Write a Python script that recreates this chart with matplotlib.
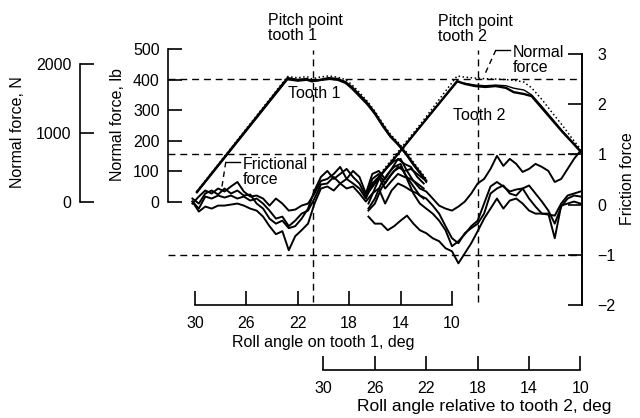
import matplotlib.pyplot as plt

plt.rcParams['font.family'] = ['Liberation Sans', 'DejaVu Sans']
plt.rcParams['font.size'] = 11.5

# roll angle on tooth 1 (deg) at which the tooth 1 friction traces were read
t1_roll = [30.2, 29.7, 29.2, 28.7, 28.2, 27.7, 27.2, 26.7, 26.2, 25.7, 25.2, 24.7,
           24.2, 23.7, 23.2, 22.7, 22.2, 21.7, 21.2, 20.7, 20.2, 19.7, 19.2, 18.7,
           18.2, 17.7, 17.2, 16.7, 16.2, 15.7, 15.2, 14.7, 14.2, 13.7, 13.2, 12.7, 12.2]
fric_t1_a = [0.02, 0.16, 0.28, 0.22, 0.32, 0.26, 0.36, 0.45, 0.26, 0.16, 0.18, 0.12,
             -0.02, 0.12, 0.02, -0.12, -0.10, -0.02, 0.02, 0.22, 0.47, 0.51, 0.61, 0.75,
             0.51, 0.67, 0.55, 0.22, 0.61, 0.67, 0.51, 0.71, 0.91, 0.81, 0.75, 0.55, 0.42]
fric_t1_b = [0.06, -0.08, 0.16, 0.12, 0.18, 0.14, 0.18, 0.12, 0.16, 0.08, 0.12, 0.02,
             -0.12, -0.28, -0.24, -0.43, -0.32, -0.18, -0.12, 0.12, 0.40, 0.42, 0.55, 0.42,
             0.51, 0.42, 0.32, 0.12, 0.42, 0.55, 0.32, 0.47, 0.61, 0.55, 0.51, 0.42, 0.32]
fric_t1_c = [0.06, -0.14, -0.04, -0.08, -0.02, -0.02, 0.00, 0.02, -0.02, -0.08, -0.12, -0.24,
             -0.43, -0.59, -0.53, -0.91, -0.63, -0.51, -0.38, 0.02, 0.32, 0.36, 0.28, 0.42,
             0.32, 0.36, 0.22, 0.06, 0.22, 0.32, 0.02, 0.28, 0.42, 0.36, 0.28, 0.22, 0.12]
fric_t1_d = [0.12, 0.02, 0.22, 0.28, 0.20, 0.32, 0.22, 0.28, 0.18, 0.20, 0.02, -0.08,
             -0.28, -0.38, -0.32, -0.47, -0.43, -0.28, -0.08, 0.28, 0.55, 0.67, 0.51, 0.61,
             0.71, 0.55, 0.42, 0.16, 0.51, 0.61, 0.42, 0.61, 0.75, 0.67, 0.71, 0.61, 0.51]

# tooth 2 friction traces, same roll-angle scale (tooth 1)
t2_roll = [16.5, 16.0, 15.5, 15.0, 14.5, 14.0, 13.5, 13.0, 12.5, 12.0, 11.5, 11.0,
           10.5, 10.0, 9.5, 9.0, 8.5, 8.0, 7.5, 7.0, 6.5, 6.0, 5.5, 5.0, 4.5, 4.0,
           3.5, 3.0, 2.5, 2.0, 1.5, 1.0, 0.5, 0.0]
fric_t2_a = [0.02, 0.32, 0.61, 0.75, 0.87, 0.91, 0.67, 0.47, 0.32, 0.26, 0.12, -0.02,
             -0.08, -0.12, -0.04, 0.06, 0.22, 0.42, 0.51, 0.71, 0.97, 0.77, 0.91, 0.81,
             0.65, 0.71, 0.81, 0.75, 0.67, 0.45, 0.51, 0.71, 0.91, 1.07]
fric_t2_b = [-0.08, 0.12, 0.42, 0.61, 0.75, 0.81, 0.51, 0.22, 0.02, -0.08, -0.18, -0.32,
             -0.51, -0.83, -0.73, -0.59, -0.43, -0.32, 0.02, 0.36, 0.45, 0.36, 0.26, 0.30,
             0.32, 0.12, -0.04, -0.18, -0.18, -0.67, -0.02, 0.02, 0.06, 0.02]
fric_t2_c = [-0.24, -0.38, -0.38, -0.51, -0.43, -0.32, -0.22, -0.38, -0.51, -0.57, -0.67, -0.73,
             -0.87, -0.93, -1.17, -0.97, -0.77, -0.53, -0.28, -0.08, 0.12, -0.08, 0.08, 0.12,
             0.02, -0.12, -0.18, -0.18, -0.20, -0.22, 0.02, 0.18, 0.22, 0.26]
fric_t2_d = [-0.12, 0.02, 0.32, 0.51, 0.67, 0.75, 0.55, 0.36, 0.18, 0.12, -0.02, -0.18,
             -0.43, -0.67, -0.77, -0.57, -0.47, -0.38, -0.18, 0.22, 0.32, 0.38, 0.22, 0.18,
             0.32, 0.38, 0.22, 0.06, -0.12, -0.38, -0.04, 0.12, 0.18, 0.16]

# normal force, lb
n1_roll = [29.85, 22.8, 22.0, 21.3, 20.9, 20.3, 19.6, 18.9, 18.3, 17.8, 17.2, 16.6,
           16.0, 15.4, 14.8, 14.2, 13.6, 13.0, 12.4, 12.0]
n1_run1 = [33, 405, 399, 402, 395, 399, 405, 402, 392, 376, 350, 324, 291, 252, 216, 190, 160, 124, 92, 69]
n1_run2 = [30, 400, 395, 398, 393, 397, 401, 398, 388, 370, 344, 318, 286, 247, 212, 186, 156, 120, 88, 64]
n1_dots = [35, 410, 406, 410, 402, 408, 412, 408, 400, 384, 358, 330, 297, 258, 222, 195, 166, 130, 98, 75]

n2_roll = [16.5, 15.4, 12.5, 9.6, 9.0, 8.2, 7.4, 6.6, 5.8, 5.2, 4.4, 3.8, 3.0, 2.2, 1.4, 0.6, -0.05]
n2_run1 = [33, 95, 245, 395, 386, 379, 376, 379, 373, 359, 353, 346, 307, 268, 229, 193, 163]
n2_run2 = [33, 95, 245, 392, 388, 382, 380, 382, 380, 372, 366, 350, 312, 272, 232, 196, 165]
n2_dots = [40, 102, 252, 412, 408, 405, 403, 402, 400, 398, 392, 373, 335, 292, 250, 205, 170]

pitch_roll = [20.85, 8.0]
guide_fric = [2.5, 1, -1]
roll_ticks = [30, 26, 22, 18, 14, 10]

W, H = 640, 418
XLIM = (32.1, -0.12)
LAB = 11.5


def fpos(x, y):
    return x / W, 1 - y / H


fig = plt.figure(figsize=(W / 100, H / 100), dpi=100)
ax = fig.add_axes([168 / W, 1 - 305 / H, (582 - 168) / W, (305 - 48.4) / H])
ax.patch.set_visible(False)

# normal force in lb, left scale
axn = ax.twinx()
# same force in newtons, further out
axN = ax.twinx()

# friction traces
for f in (fric_t1_a, fric_t1_b, fric_t1_c, fric_t1_d):
    ax.plot(t1_roll, f, color='black', lw=1.4)
for f in (fric_t2_a, fric_t2_b, fric_t2_c, fric_t2_d):
    ax.plot(t2_roll, f, color='black', lw=1.4)

dash = (0, (5, 3.5))
for g in guide_fric:
    ax.axhline(g, color='black', lw=1.0, ls=dash)
ax.vlines(pitch_roll, -1.95, 3.07, color='black', lw=1.0, linestyles=[dash])

ax.set_xlim(*XLIM)
ax.set_ylim(-2, 3.11)
for s in ('top', 'left'):
    ax.spines[s].set_visible(False)
ax.spines['right'].set_visible(True)
ax.spines['right'].set_bounds(-2, 3)
ax.spines['right'].set_linewidth(1.4)
ax.spines['bottom'].set_bounds(30, 10)
ax.spines['bottom'].set_linewidth(1.2)
ax.yaxis.tick_right()
ax.set_yticks([-2, -1, 0, 1, 2, 3])
ax.tick_params(axis='y', direction='in', length=10, width=1.2, pad=11)
ax.set_xticks(roll_ticks)
ax.tick_params(axis='x', direction='in', length=10, width=1.2, pad=8)

# tooth 2 roll-angle scale (offset by 10 deg)
ax2 = fig.add_axes([168 / W, 1 - 370 / H, (582 - 168) / W, 0.0001])
ax2.patch.set_visible(False)
ax2.set_xlim(XLIM[0] + 10, XLIM[1] + 10)
for s in ('top', 'left', 'right'):
    ax2.spines[s].set_visible(False)
ax2.spines['bottom'].set_bounds(30, 10)
ax2.spines['bottom'].set_linewidth(1.2)
ax2.set_yticks([])
ax2.set_xticks(roll_ticks)
ax2.tick_params(axis='x', direction='in', length=10, width=1.2, pad=8)

axn.plot(n1_roll, n1_run1, color='black', lw=1.7)
axn.plot(n1_roll, n1_run2, color='black', lw=1.0)
axn.plot(n1_roll, n1_dots, color='black', lw=1.1, ls=':')
axn.plot(n2_roll, n2_run1, color='black', lw=1.7)
axn.plot(n2_roll, n2_run2, color='black', lw=1.0)
axn.plot(n2_roll, n2_dots, color='black', lw=1.1, ls=':')
axn.set_ylim(-336.6, 502)
for s in ('top', 'right', 'bottom'):
    axn.spines[s].set_visible(False)
axn.spines['left'].set_visible(True)
axn.spines['left'].set_bounds(0, 500)
axn.spines['left'].set_linewidth(1.2)
axn.yaxis.tick_left()
axn.set_yticks([0, 100, 200, 300, 400, 500])
axn.tick_params(axis='y', direction='in', length=10, width=1.2, pad=6)

axN.set_ylim(-336.6 * 4.448, 502 * 4.448)
for s in ('top', 'right', 'bottom'):
    axN.spines[s].set_visible(False)
axN.spines['left'].set_visible(True)
axN.spines['left'].set_position(('axes', (80 - 168) / 414))
axN.spines['left'].set_bounds(0, 2000)
axN.spines['left'].set_linewidth(1.2)
axN.yaxis.tick_left()
axN.set_yticks([0, 1000, 2000])
axN.tick_params(axis='y', direction='in', length=10, width=1.2, pad=6)

# leader lines
ax.plot([26.5, 27.6], [0.85, 0.85], color='black', lw=1.0)
ax.plot([27.6, 27.9], [0.85, 0.36], color='black', lw=1.0, ls=(0, (4, 3)))
axn.plot([5.49, 6.58], [497, 497], color='black', lw=1.0)
axn.plot([6.58, 7.5], [497, 412], color='black', lw=1.0, ls=(0, (4, 3)))

# labels
fig.text(*fpos(18, 132), 'Normal force, N', rotation=90, ha='center', va='center', fontsize=LAB)
fig.text(*fpos(117, 125), 'Normal force, lb', rotation=90, ha='center', va='center', fontsize=LAB)
fig.text(*fpos(627, 179), 'Friction force', rotation=90, ha='center', va='center', fontsize=LAB)
fig.text(*fpos(323, 342), 'Roll angle on tooth 1, deg', ha='center', va='center', fontsize=LAB)
fig.text(*fpos(484, 407), 'Roll angle relative to tooth 2, deg', ha='center', va='center', fontsize=12.5)

fig.text(*fpos(268, 28), 'Pitch point\ntooth 1', ha='left', va='center', fontsize=LAB, linespacing=1.0)
fig.text(*fpos(438, 29), 'Pitch point\ntooth 2', ha='left', va='center', fontsize=LAB, linespacing=1.0)
fig.text(*fpos(513, 60), 'Normal\nforce', ha='left', va='center', fontsize=LAB, linespacing=0.95)
fig.text(*fpos(243, 172), 'Frictional\nforce', ha='left', va='center', fontsize=LAB, linespacing=0.95)
fig.text(*fpos(288, 93), 'Tooth 1', ha='left', va='center', fontsize=LAB)
fig.text(*fpos(453, 115), 'Tooth 2', ha='left', va='center', fontsize=LAB)

fig.savefig('out.png', dpi=100)
